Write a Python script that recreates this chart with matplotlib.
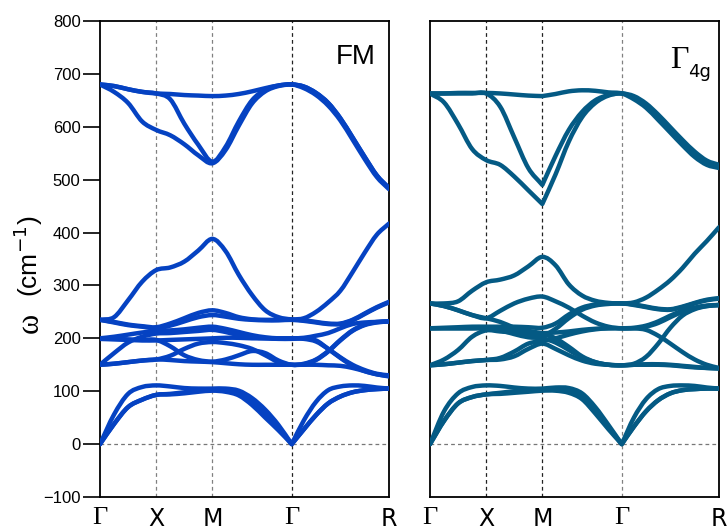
import numpy as np
import matplotlib
matplotlib.use("Agg")
import matplotlib.pyplot as plt
from matplotlib.path import Path
from matplotlib.patches import PathPatch

plt.rcParams["font.family"] = ["Liberation Sans", "DejaVu Sans"]

# ---------------------------------------------------------------------------
# High-symmetry path of the simple-cubic Brillouin zone
# ---------------------------------------------------------------------------
k_labels = ["Γ", "X", "M", "Γ", "R"]
segment_lengths = [0.5, 0.5, np.sqrt(2) / 2, np.sqrt(3) / 2]
segment_steps = [4, 4, 6, 8]          # sampled q-points per segment

# Phonon frequencies (cm^-1) along Γ-X | X-M | M-Γ | Γ-R  (5 | 4 | 6 | 8 values)
# ---- ferromagnetic state --------------------------------------------------
fm_acoustic = [
    [0, 56, 95, 108, 111, 109, 106, 105, 105, 105, 101, 87, 65, 36, 0, 45, 80, 102, 109, 111, 110, 107, 105],
    [0, 38, 70, 84, 93, 95, 98, 101, 103, 102, 96, 80, 57, 30, 0, 28, 55, 77, 90, 98, 102, 104, 105],
    [0, 38, 70, 84, 93, 94, 96, 99, 101, 99, 92, 74, 50, 26, 0, 28, 55, 77, 90, 98, 102, 104, 105],
]
fm_middle = [
    [150, 152, 155, 158, 160, 159, 157, 156, 155, 153, 151, 150, 150, 150, 150, 150, 150, 149, 148, 144, 138, 132, 128],
    [199, 199, 198, 197, 197, 185, 168, 159, 156, 160, 168, 176, 172, 158, 150, 152, 160, 176, 197, 215, 226, 231, 232],
    [150, 152, 155, 158, 160, 167, 180, 190, 193, 191, 187, 180, 168, 155, 150, 151, 159, 175, 196, 214, 225, 230, 232],
    [150, 172, 192, 203, 209, 210, 212, 214, 216, 212, 206, 202, 200, 199, 199, 200, 196, 180, 163, 148, 138, 132, 129],
    [199, 198, 197, 196, 196, 197, 198, 199, 200, 201, 201, 200, 200, 200, 200, 199, 194, 180, 164, 150, 140, 133, 130],
    [200, 203, 207, 211, 214, 215, 217, 220, 222, 218, 212, 206, 202, 200, 200, 201, 205, 210, 219, 227, 230, 231, 232],
    [235, 230, 225, 222, 219, 224, 232, 240, 244, 241, 237, 235, 234, 234, 235, 233, 230, 227, 227, 234, 246, 258, 268],
    [235, 231, 226, 223, 221, 228, 238, 248, 253, 248, 240, 236, 235, 235, 235, 234, 231, 228, 228, 235, 247, 259, 269],
    [235, 240, 272, 307, 329, 334, 345, 366, 388, 365, 320, 282, 253, 240, 236, 238, 250, 268, 290, 325, 362, 396, 417],
]
fm_high = [
    [680, 666, 645, 610, 594, 584, 567, 546, 531, 556, 602, 644, 667, 677, 680, 676, 664, 645, 616, 580, 543, 508, 484],
    [680, 677, 671, 666, 663, 652, 606, 566, 534, 562, 610, 650, 670, 678, 680, 676, 664, 645, 616, 580, 543, 508, 484],
    [680, 677, 671, 666, 663, 662, 660, 659, 658, 659, 662, 667, 673, 678, 680, 673, 660, 640, 612, 576, 539, 505, 482],
]

# ---- Γ4g orbital-ordered state -------------------------------------------
g4_acoustic = [
    [0, 62, 96, 108, 111, 110, 107, 105, 105, 107, 106, 96, 70, 36, 0, 50, 85, 104, 110, 111, 110, 107, 105],
    [0, 44, 77, 89, 94, 97, 100, 102, 103, 104, 101, 90, 64, 32, 0, 33, 62, 83, 96, 102, 104, 105, 105],
    [0, 44, 77, 89, 94, 95, 97, 99, 101, 101, 97, 85, 58, 28, 0, 33, 62, 83, 96, 102, 104, 105, 105],
]
g4_middle = [
    [266, 261, 253, 244, 238, 252, 266, 275, 279, 270, 258, 243, 230, 222, 219, 220, 224, 232, 243, 252, 258, 262, 263],
    [266, 261, 253, 244, 238, 231, 220, 210, 205, 218, 238, 254, 262, 265, 266, 263, 259, 255, 254, 259, 266, 272, 275],
    [219, 219, 219, 219, 219, 218, 216, 214, 210, 211, 213, 216, 218, 219, 219, 219, 222, 229, 240, 250, 257, 261, 263],
    [219, 219, 219, 219, 219, 215, 208, 202, 200, 192, 178, 164, 155, 150, 149, 150, 151, 151, 150, 148, 146, 144, 143],
    [219, 220, 221, 222, 222, 222, 222, 221, 220, 228, 245, 258, 264, 266, 266, 264, 260, 256, 255, 260, 267, 273, 276],
    [149, 160, 178, 203, 215, 213, 211, 209, 208, 200, 184, 166, 155, 150, 149, 152, 165, 190, 220, 243, 255, 261, 263],
    [149, 151, 154, 157, 159, 163, 175, 190, 195, 200, 207, 213, 217, 219, 219, 219, 216, 205, 190, 174, 160, 150, 144],
    [149, 151, 154, 157, 159, 160, 166, 180, 190, 180, 168, 158, 152, 150, 149, 150, 150, 150, 149, 147, 145, 144, 143],
    [266, 266, 270, 290, 306, 311, 319, 336, 354, 338, 302, 281, 271, 267, 266, 268, 277, 292, 310, 333, 360, 384, 410],
]
g4_high = [
    [663, 646, 605, 558, 537, 528, 506, 480, 454, 510, 572, 618, 645, 659, 663, 655, 640, 618, 594, 570, 548, 532, 525],
    [663, 663, 663, 663, 663, 638, 580, 522, 490, 545, 594, 628, 650, 660, 663, 658, 644, 623, 599, 575, 553, 536, 528],
    [663, 663, 664, 664, 664, 663, 661, 659, 658, 662, 667, 669, 668, 665, 663, 652, 636, 613, 589, 565, 543, 528, 522],
]

fm_color = "#0542C2"
g4_color = "#045A84"

# cumulative path coordinate of every sampled q-point
k_path = [0.0]
k_nodes = [0.0]
node_index = [0]
for length, steps in zip(segment_lengths, segment_steps):
    start = k_nodes[-1]
    for i in range(1, steps + 1):
        k_path.append(start + length * i / steps)
    k_nodes.append(start + length)
    node_index.append(len(k_path) - 1)
k_path = np.array(k_path)
M_INDEX = node_index[2]


def band_path(xs, ys, breaks=()):
    """Smooth cubic (Hermite) path through the sampled points of one band.
    The curve is split where the band has a cusp (acoustic zeros, given nodes)."""
    ys = np.asarray(ys, dtype=float)
    cut = {0, len(xs) - 1} | set(breaks) | {i for i, v in enumerate(ys) if v == 0}
    cut = sorted(cut)
    verts, codes = [], []
    for a, b in zip(cut[:-1], cut[1:]):
        P = np.column_stack([xs[a:b + 1], ys[a:b + 1]])
        m = np.empty_like(P)
        m[1:-1] = (P[2:] - P[:-2]) / 2
        m[0] = P[1] - P[0]
        m[-1] = P[-1] - P[-2]
        if not verts:
            verts.append(P[0])
            codes.append(Path.MOVETO)
        for j in range(len(P) - 1):
            verts += [P[j] + m[j] / 3, P[j + 1] - m[j + 1] / 3, P[j + 1]]
            codes += [Path.CURVE4] * 3
    return Path(verts, codes)


W, H = 728, 531
fig = plt.figure(figsize=(W / 100, H / 100), dpi=100)


def panel(left_px, groups, color, vline_colors, show_y):
    ax = fig.add_axes([left_px / W, 34 / H, 289 / W, 476 / H])
    for bands, breaks in groups:
        for band in bands:
            ax.add_patch(PathPatch(band_path(k_path, band, breaks), fill=False,
                                   edgecolor=color, lw=3.2, capstyle="round",
                                   joinstyle="round", zorder=3))
    for kx, c in zip(k_nodes[1:-1], vline_colors):
        ax.axvline(kx, color=c, lw=0.9, ls=(0, (3, 2.5)), zorder=1)
    ax.axhline(0, color="#777777", lw=0.9, ls=(0, (3, 2.5)), zorder=1)
    ax.set_xlim(k_nodes[0], k_nodes[-1])
    ax.set_ylim(-100, 800)
    ax.set_xticks(k_nodes)
    ax.set_xticklabels(k_labels, fontsize=17)
    for lab in ax.get_xticklabels():
        if lab.get_text() == "Γ":
            lab.set_fontfamily("Liberation Serif")
            lab.set_fontsize(19)
        else:
            lab.set_fontfamily("DejaVu Sans")
    ax.tick_params(axis="x", length=0, pad=7)
    ax.set_yticks(range(-100, 801, 100))
    if show_y:
        ax.tick_params(axis="y", direction="out", length=12, width=1.2,
                       labelsize=12, pad=2)
    else:
        ax.tick_params(axis="y", length=0, labelleft=False)
    for sp in ax.spines.values():
        sp.set_linewidth(1.3)
        sp.set_color("black")
    return ax


ax1 = panel(100, [(fm_acoustic, ()), (fm_middle, ()), (fm_high, ())],
            fm_color, ["#808080", "#808080", "#222222"], True)
ax2 = panel(430, [(g4_acoustic, ()), (g4_middle, ()), (g4_high, (M_INDEX,))],
            g4_color, ["#222222", "#222222", "#808080"], False)

ax1.text(0.953, 0.909, "FM", transform=ax1.transAxes, ha="right",
         va="baseline", fontsize=20)
ax2.text(0.83, 0.902, "Γ", transform=ax2.transAxes, ha="left",
         va="baseline", fontsize=23, family="Liberation Serif")
ax2.text(0.893, 0.883, "4g", transform=ax2.transAxes, ha="left",
         va="baseline", fontsize=13, family="DejaVu Sans")

# axis title: ω (cm^-1)
fig.text(30 / W, 1 - 323 / H, "ω", rotation=90, ha="center", va="center",
         fontsize=22, family="Liberation Serif")
fig.text(28 / W, 1 - 256 / H, "(cm$^{-1}$)", rotation=90, ha="center",
         va="center", fontsize=19)

fig.savefig("out.png", dpi=100)
